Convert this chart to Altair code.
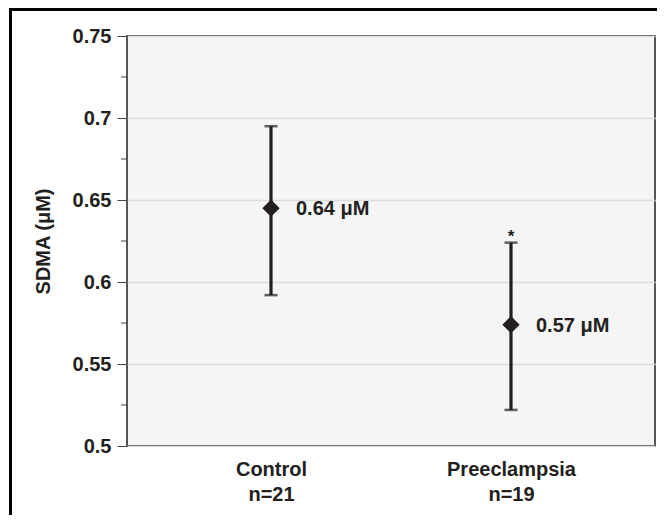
import altair as alt
import pandas as pd

groups = ["Control", "Preeclampsia"]
n_counts = [21, 19]
means = [0.645, 0.574]
uppers = [0.695, 0.624]
lowers = [0.592, 0.522]
value_labels = ["0.64 μM", "0.57 μM"]
signif = ["", "*"]
y_ticks = [0.5, 0.55, 0.6, 0.65, 0.7, 0.75]
y_minor = [0.525, 0.575, 0.625, 0.675, 0.725]

df = pd.DataFrame({
    "group": [f"{g}|n={n}" for g, n in zip(groups, n_counts)],
    "mean": means,
    "upper": uppers,
    "lower": lowers,
    "label": value_labels,
    "sig": signif,
})
minor_df = pd.DataFrame({"v": y_minor})

FONT = "Liberation Sans"
INK = "#231f20"

x_enc = alt.X(
    "group:N",
    sort=None,
    scale=alt.Scale(type="point", padding=0.6),
    axis=alt.Axis(
        title=None, ticks=False, domain=False, labelAngle=0,
        labelExpr="split(datum.label, '|')",
        labelFont=FONT, labelFontSize=20, labelFontWeight="bold",
        labelColor=INK, labelPadding=13, labelLineHeight=25,
        labelBaseline="top",
    ),
)
y_scale = alt.Scale(domain=[0.5, 0.75], nice=False, zero=False)
y_enc = alt.Y(
    "mean:Q",
    scale=y_scale,
    axis=alt.Axis(
        title="SDMA (μM)", values=y_ticks, format=".2~f",
        domain=False, tickSize=10, tickColor="#444", tickWidth=1,
        labelFont=FONT, labelFontSize=20, labelFontWeight="bold",
        labelColor=INK, labelPadding=6,
        titleFont=FONT, titleFontSize=20, titleFontWeight="bold",
        titleColor=INK, titlePadding=19,
        grid=True, gridColor="#dcdcdc", gridWidth=1.5,
    ),
)

base = alt.Chart(df)

bars = base.mark_rule(color=INK, strokeWidth=3.2).encode(
    x=x_enc, y=alt.Y("lower:Q", scale=y_scale), y2="upper:Q"
)
cap_hi = base.mark_tick(color=INK, size=13, thickness=2.5).encode(
    x="group:N", y=alt.Y("upper:Q", scale=y_scale)
)
cap_lo = base.mark_tick(color=INK, size=13, thickness=2.5).encode(
    x="group:N", y=alt.Y("lower:Q", scale=y_scale)
)
pts = base.mark_point(shape="diamond", filled=True, color=INK, size=300, opacity=1).encode(
    x="group:N", y=y_enc
)
lbl = base.mark_text(align="left", baseline="middle", dx=25, dy=1, font=FONT,
                     fontSize=20, fontWeight="bold", color=INK).encode(
    x="group:N", y=alt.Y("mean:Q", scale=y_scale), text="label:N"
)
star = base.mark_text(align="center", baseline="alphabetic", dy=-1, font=FONT,
                      fontSize=17, fontWeight="bold", color=INK).encode(
    x="group:N", y=alt.Y("upper:Q", scale=y_scale), text="sig:N"
)
minor = alt.Chart(minor_df).mark_rule(color="#444", strokeWidth=1).encode(
    y=alt.Y("v:Q", scale=y_scale), x=alt.value(-6), x2=alt.value(0)
)

frame_df = alt.Data(values=[{"k": 1}])
frame_left = alt.Chart(frame_df).mark_rect(color="black", clip=False).encode(
    x=alt.value(-118), x2=alt.value(-115), y=alt.value(-28), y2=alt.value(479)
)
frame_top = alt.Chart(frame_df).mark_rect(color="black", clip=False).encode(
    x=alt.value(-118), x2=alt.value(530), y=alt.value(-28), y2=alt.value(-25)
)

chart = alt.layer(
    minor, bars, cap_hi, cap_lo, pts, lbl, star, frame_left, frame_top
).properties(
    width=528, height=410,
    autosize=alt.AutoSizeParams(type="none"),
    padding={"left": 119, "top": 28, "right": 5, "bottom": 69},
    background="white",
).configure_view(
    fill="#f5f5f5", stroke="#555555", strokeWidth=2
)

chart.save("out.html", embed_options={"renderer": "svg", "actions": False})
